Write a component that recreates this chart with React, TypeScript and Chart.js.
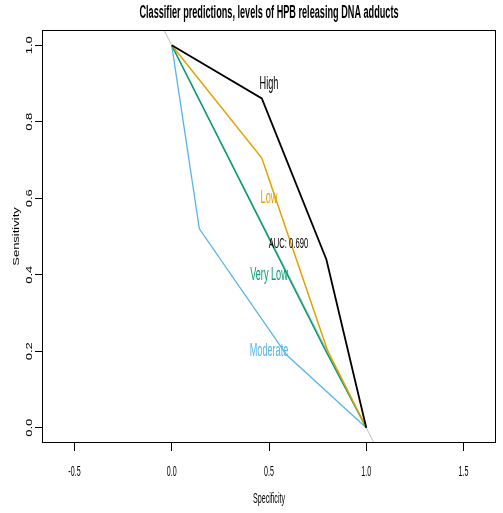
import React, { useEffect, useRef } from "react";
import { Chart, registerables } from "chart.js";

Chart.register(...registerables);

// ---- data ----
const TITLE = "Classifier predictions, levels of HPB releasing DNA adducts";
const X_TITLE = "Specificity";
const Y_TITLE = "Sensitivity";

const HIGH_X = [0, 0.463, 0.795, 1];
const HIGH_Y = [1, 0.861, 0.44, 0];
const LOW_X = [0, 0.463, 0.8, 1];
const LOW_Y = [1, 0.705, 0.203, 0];
const VLOW_X = [0, 0.79, 1];
const VLOW_Y = [1, 0.203, 0];
const MOD_X = [0, 0.142, 0.591, 1];
const MOD_Y = [1, 0.52, 0.19, 0];

const CURVE_NAMES = ["High", "Low", "Very Low", "Moderate"];
const CURVE_COLORS = ["#000000", "#E69F00", "#009E73", "#56B4E9"];
const LABEL_X = [0.5, 0.5, 0.5, 0.5];
const LABEL_Y = [0.9, 0.6, 0.4, 0.2];

const AUC_TEXT = "AUC: 0.690";
const AUC_X = 0.6;
const AUC_Y = 0.482;

const X_TICKS = [-0.5, 0, 0.5, 1, 1.5];
const X_TICK_LABELS = ["-0.5", "0.0", "0.5", "1.0", "1.5"];
const Y_TICKS = [0, 0.2, 0.4, 0.6, 0.8, 1.0];
const Y_TICK_LABELS = ["0.0", "0.2", "0.4", "0.6", "0.8", "1.0"];

const X_MIN = -0.667;
const X_MAX = 1.667;
const Y_MIN = -0.04;
const Y_MAX = 1.04;

// ---- styling ----
const SX = 0.508; // horizontal squeeze of horizontal text
const SX_ROT = 0.72; // squeeze of rotated text
const FONT = '"Liberation Sans", Arial, Helvetica, sans-serif';

const pts = (xs: number[], ys: number[]) => xs.map((x, i) => ({ x, y: ys[i] }));

function drawText(
  ctx: CanvasRenderingContext2D,
  text: string,
  x: number,
  y: number,
  font: string,
  color: string,
  rotate = false
) {
  ctx.save();
  ctx.translate(x, y);
  ctx.scale(rotate ? SX_ROT : SX, 1);
  if (rotate) ctx.rotate(-Math.PI / 2);
  ctx.font = font;
  ctx.fillStyle = color;
  ctx.textAlign = "center";
  ctx.textBaseline = "middle";
  ctx.fillText(text, 0, 0);
  ctx.restore();
}

const rTextPlugin = {
  id: "rText",
  afterDraw(chart: any) {
    const { ctx, chartArea: a, scales } = chart;
    const xs = scales.x;
    const ys = scales.y;
    // box
    ctx.save();
    ctx.strokeStyle = "#000";
    ctx.lineWidth = 1;
    const l = Math.round(a.left) + 0.5;
    const t = Math.round(a.top) + 0.5;
    const r = Math.round(a.right) - 0.5;
    const b = Math.round(a.bottom) - 0.5;
    ctx.strokeRect(l, t, r - l, b - t);
    ctx.restore();

    const cx = (a.left + a.right) / 2;
    const cy = (a.top + a.bottom) / 2;
    drawText(ctx, TITLE, cx, 13, `bold 18px ${FONT}`, "#000");
    drawText(ctx, X_TITLE, cx, a.bottom + 56, `14px ${FONT}`, "#000");
    drawText(ctx, Y_TITLE, 16, cy, `13px ${FONT}`, "#000", true);

    X_TICKS.forEach((v, i) => {
      drawText(ctx, X_TICK_LABELS[i], xs.getPixelForValue(v), a.bottom + 29, `14px ${FONT}`, "#000");
    });
    Y_TICKS.forEach((v, i) => {
      drawText(ctx, Y_TICK_LABELS[i], a.left - 12.5, ys.getPixelForValue(v), `13px ${FONT}`, "#000", true);
    });

    CURVE_NAMES.forEach((name, i) => {
      drawText(
        ctx,
        name,
        xs.getPixelForValue(LABEL_X[i]),
        ys.getPixelForValue(LABEL_Y[i]),
        `18px ${FONT}`,
        CURVE_COLORS[i]
      );
    });
    drawText(ctx, AUC_TEXT, xs.getPixelForValue(AUC_X), ys.getPixelForValue(AUC_Y), `15px ${FONT}`, "#000");
  },
};

export default function App() {
  const ref = useRef<HTMLCanvasElement | null>(null);

  useEffect(() => {
    if (!ref.current) return;
    const curves = [
      pts(HIGH_X, HIGH_Y),
      pts(LOW_X, LOW_Y),
      pts(VLOW_X, VLOW_Y),
      pts(MOD_X, MOD_Y),
    ];
    const widths = [1.8, 1.5, 1.5, 1.3];
    const datasets: any[] = curves.map((d, i) => ({
      label: CURVE_NAMES[i],
      data: d,
      showLine: true,
      borderColor: CURVE_COLORS[i],
      backgroundColor: CURVE_COLORS[i],
      borderWidth: widths[i],
      pointRadius: 0,
      fill: false,
      tension: 0,
      order: i,
    }));
    // reference diagonal y = 1 - x across the plotting region
    datasets.push({
      label: "diagonal",
      data: [
        { x: 1 - Y_MAX, y: Y_MAX },
        { x: 1 - Y_MIN, y: Y_MIN },
      ],
      showLine: true,
      borderColor: "#BEBEBE",
      borderWidth: 1,
      pointRadius: 0,
      fill: false,
      order: 10,
    });

    const chart = new Chart(ref.current, {
      type: "scatter",
      data: { datasets },
      plugins: [rTextPlugin],
      options: {
        animation: false,
        responsive: false,
        layout: { padding: { top: 30, right: 7, left: 0, bottom: 0 } },
        plugins: {
          legend: { display: false },
          tooltip: { enabled: false },
          title: { display: false },
        },
        scales: {
          x: {
            type: "linear",
            min: X_MIN,
            max: X_MAX,
            afterBuildTicks: (s: any) => {
              s.ticks = X_TICKS.map((v) => ({ value: v }));
            },
            afterFit: (s: any) => {
              s.height = 70;
            },
            ticks: { display: false },
            border: { display: false },
            grid: {
              display: true,
              drawOnChartArea: false,
              drawTicks: true,
              tickLength: 8,
              color: "#000",
              lineWidth: 1,
            },
          },
          y: {
            type: "linear",
            min: Y_MIN,
            max: Y_MAX,
            afterBuildTicks: (s: any) => {
              s.ticks = Y_TICKS.map((v) => ({ value: v }));
            },
            afterFit: (s: any) => {
              s.width = 42;
            },
            ticks: { display: false },
            border: { display: false },
            grid: {
              display: true,
              drawOnChartArea: false,
              drawTicks: true,
              tickLength: 7,
              color: "#000",
              lineWidth: 1,
            },
          },
        },
      } as any,
    });
    return () => chart.destroy();
  }, []);

  return (
    <div style={{ position: "fixed", left: 0, top: 0, width: 503, height: 513, background: "#fff" }}>
      <canvas ref={ref} width={503} height={513} style={{ width: 503, height: 513, display: "block" }} />
    </div>
  );
}
